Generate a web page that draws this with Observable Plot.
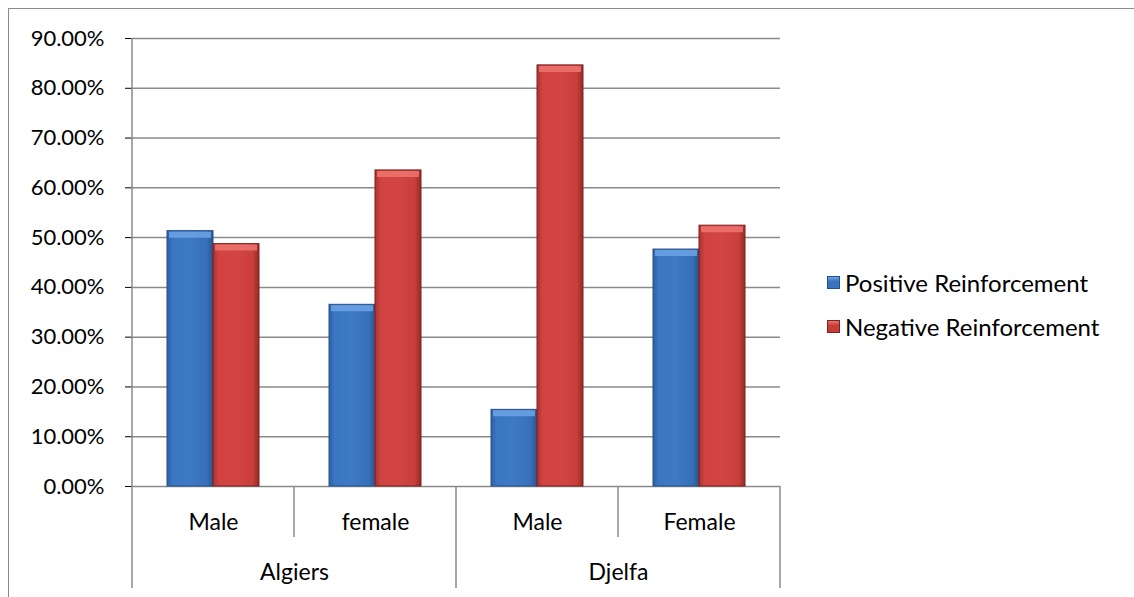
<!DOCTYPE html>
<html>
<head>
<meta charset="utf-8">
<script src="https://cdn.jsdelivr.net/npm/d3@7"></script>
<script src="https://cdn.jsdelivr.net/npm/@observablehq/plot@0.6"></script>
<style>
  html, body { margin: 0; padding: 0; background: #fff; }
  #wrap { position: relative; width: 1134px; height: 597px; overflow: hidden; font-family: Lato, "Open Sans", sans-serif; }
  #frame { position: absolute; left: 8px; top: 8px; width: 1200px; height: 700px; border-top: 1.5px solid #8a8a8a; border-left: 1.5px solid #8a8a8a; }
  #chart { position: absolute; left: 0; top: 0; }
  .legend { position: absolute; left: 827px; font-size: 24px; color: #000; }
  .legend .row { position: absolute; white-space: nowrap; display: flex; align-items: center; line-height: 29px; }
  .legend .sw { width: 13px; height: 13px; margin-right: 5px; box-sizing: border-box; }
</style>
</head>
<body>
<div id="wrap">
  <div id="frame"></div>
  <div id="chart"></div>
  <div class="legend" id="legend"></div>
</div>
<script>
// Categories: region | gender, shown as two rows of labels under the axis
const categories = ["Algiers|Male", "Algiers|female", "Djelfa|Male", "Djelfa|Female"];
const categoryLabels = ["Male", "female", "Male", "Female"];
const regions = ["Algiers", "Djelfa"];
const series = ["Positive Reinforcement", "Negative Reinforcement"];
// Share of respondents per category
const positive = [0.513, 0.365, 0.154, 0.476];
const negative = [0.487, 0.635, 0.846, 0.524];
const yTicks = [0, 0.1, 0.2, 0.3, 0.4, 0.5, 0.6, 0.7, 0.8, 0.9];

const colors = {
  "Positive Reinforcement": { fill: "url(#gradPos)", edge: "#27508a", bevel: "#6da3e6", swatch: "#3a72bb" },
  "Negative Reinforcement": { fill: "url(#gradNeg)", edge: "#7c2320", bevel: "#ee7470", swatch: "#c83c38" }
};

const rows = categories.flatMap((c, i) => [
  { cat: c, series: series[0], value: positive[i] },
  { cat: c, series: series[1], value: negative[i] }
]);
const labelOf = new Map(categories.map((c, i) => [c, categoryLabels[i]]));
// Each region label sits on the left edge of its second category (the boundary between its two)
const regionRows = regions.map((r) => ({ cat: categories.filter((c) => c.startsWith(r + "|"))[1], region: r }));

// Gradient definitions for the bevelled bar look
function gradients() {
  const defs = d3.create("svg:defs");
  const add = (id, stops) => {
    const g = defs.append("linearGradient").attr("id", id).attr("x1", 0).attr("x2", 1).attr("y1", 0).attr("y2", 0);
    for (const [o, c] of stops) g.append("stop").attr("offset", o).attr("stop-color", c);
  };
  add("gradPos", [[0, "#2f5f9f"], [0.12, "#3b76c2"], [0.5, "#3d79c5"], [0.86, "#3870b8"], [1, "#2a558f"]]);
  add("gradNeg", [[0, "#a83230"], [0.12, "#d04340"], [0.5, "#d24542"], [0.86, "#c93f3c"], [1, "#962a27"]]);
  return defs.node();
}

const chart = Plot.plot({
  width: 1134,
  height: 597,
  marginLeft: 130,
  marginRight: 353,
  marginTop: 38,
  marginBottom: 111,
  style: { fontFamily: "Lato, 'Open Sans', sans-serif", fontSize: "23px", color: "#000", background: "transparent" },
  fx: { domain: categories, padding: 0, label: null, tickSize: 0, tickPadding: 27, tickFormat: (d) => labelOf.get(d) },
  x: { domain: series, paddingInner: 0, paddingOuter: 0.734, axis: null },
  y: { domain: [0, 0.9], ticks: yTicks, tickFormat: d3.format(".2%"), tickSize: 7, tickPadding: 21, label: null, line: false },
  marks: [
    gradients,
    Plot.ruleY(yTicks, { stroke: "#8a8a8a", strokeWidth: 1.5 }),
    Plot.barY(rows, {
      fx: "cat", x: "series", y: "value",
      fill: (d) => colors[d.series].fill,
      stroke: (d) => colors[d.series].edge,
      strokeWidth: 1
    }),
    Plot.tickY(rows, {
      fx: "cat", x: "series", y: "value",
      stroke: (d) => colors[d.series].bevel,
      strokeWidth: 6, dy: 3.5, insetLeft: 2, insetRight: 2, strokeOpacity: 0.85
    }),
    Plot.text(regionRows, {
      fx: "cat", text: "region", frameAnchor: "bottom-left",
      textAnchor: "middle", lineAnchor: "middle", dy: 86, fill: "#000"
    })
  ]
});

// Y tick labels are a touch smaller than the category labels
d3.select(chart).selectAll("[aria-label='y-axis tick label'], [aria-label='y-axis'] text").attr("font-size", 22);

// Axis spine and the category/region separators below the baseline
const fxScale = chart.scale("fx");
const yScale = chart.scale("y");
const yBase = yScale.apply(0);
const yTop = yScale.apply(0.9);
const edges = categories.map((c) => fxScale.apply(c)).concat([fxScale.apply(categories[categories.length - 1]) + fxScale.bandwidth]);
const sepGroup = d3.select(chart).append("g").attr("stroke", "#8a8a8a").attr("stroke-width", 1.5);
edges.forEach((xPos, i) => {
  const long = i % 2 === 0;
  sepGroup.append("line")
    .attr("x1", xPos).attr("x2", xPos)
    .attr("y1", i === 0 ? yTop : yBase)
    .attr("y2", long ? yBase + 102 : yBase + 51);
});
document.getElementById("chart").append(chart);

// Legend
const legend = document.getElementById("legend");
series.forEach((s, i) => {
  const row = document.createElement("div");
  row.className = "row";
  row.style.top = (268 + i * 44) + "px";
  const sw = document.createElement("div");
  sw.className = "sw";
  sw.style.background = `linear-gradient(180deg, ${colors[s].bevel} 0%, ${colors[s].swatch} 40%, ${colors[s].swatch} 100%)`;
  sw.style.border = `1px solid ${colors[s].edge}`;
  const t = document.createElement("span");
  t.textContent = s;
  row.append(sw, t);
  legend.append(row);
});
</script>
</body>
</html>
